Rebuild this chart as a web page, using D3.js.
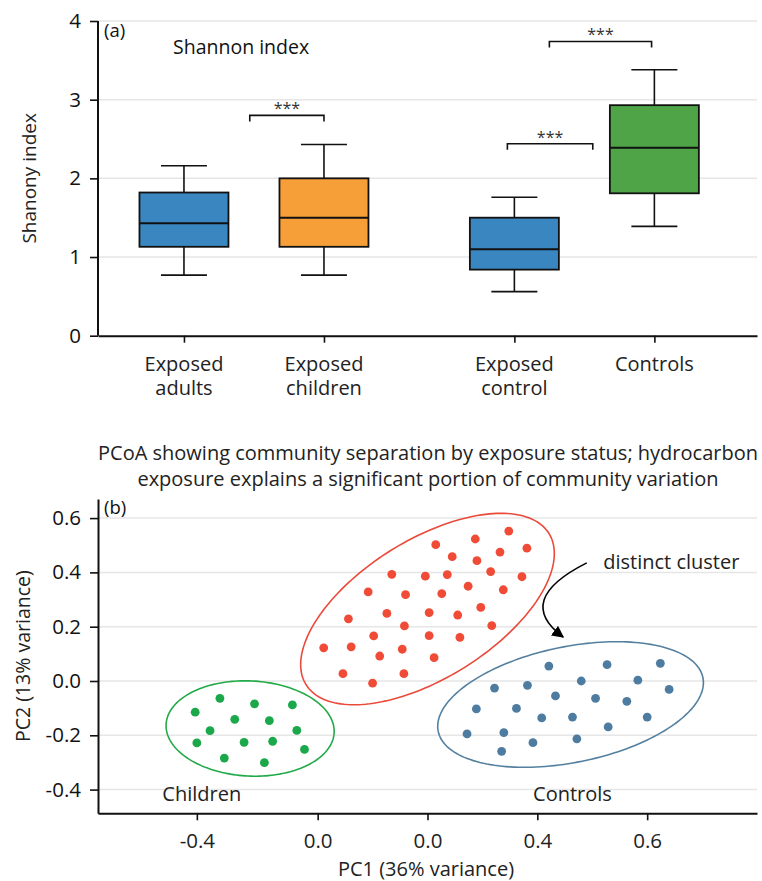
<!DOCTYPE html>
<html>
<head>
<meta charset="utf-8">
<script src="https://cdn.jsdelivr.net/npm/d3@7"></script>
<style>
  body { margin: 0; background: #fff; }
  text { font-family: "Open Sans", "Noto Sans", sans-serif; }
</style>
</head>
<body>
<svg id="chart" width="762" height="881"></svg>
<script>
// ---- panel (a): Shannon index box plots ----
const boxCategories = [['Exposed', 'adults'], ['Exposed', 'children'], ['Exposed', 'control'], ['Controls']]
const boxGroup = [0, 0, 1, 1]
const boxColors = ['#3a86c1', '#f69f39', '#3a86c1', '#4ea446']
const whiskerLow = [0.77, 0.77, 0.56, 1.39]
const q1 = [1.13, 1.13, 0.84, 1.81]
const medians = [1.43, 1.50, 1.10, 2.39]
const q3 = [1.82, 2.00, 1.50, 2.93]
const whiskerHigh = [2.16, 2.43, 1.76, 3.38]
const yTicksA = [0, 1, 2, 3, 4]
// significance brackets, ends in category-position units
const bracketFrom = [0.47, 2.31, 2.61]
const bracketTo = [1.0, 2.92, 3.34]
const bracketY = [2.80, 2.44, 3.74]
const bracketText = ['***', '***', '***']

// ---- panel (b): PCoA scatter ----
const childrenX = [-0.423, -0.378, -0.315, -0.246, -0.351, -0.288, -0.396, -0.238, -0.420, -0.334, -0.282, -0.224, -0.370, -0.297]
const childrenY = [-0.115, -0.064, -0.084, -0.088, -0.141, -0.146, -0.183, -0.182, -0.228, -0.226, -0.222, -0.252, -0.284, -0.301]
const exposedX = [0.015, 0.087, 0.148, 0.181, 0.045, 0.090, 0.132, -0.065, -0.004, 0.036, 0.115, 0.172,
  -0.108, -0.040, 0.026, 0.074, 0.138, -0.144, -0.074, 0.003, 0.055, 0.097, -0.042, 0.117,
  -0.189, -0.139, -0.098, 0.003, 0.059, -0.087, -0.046, 0.012, -0.154, -0.043, -0.100]
const exposedY = [0.502, 0.523, 0.552, 0.489, 0.458, 0.443, 0.475, 0.393, 0.386, 0.392, 0.403, 0.384,
  0.328, 0.318, 0.322, 0.349, 0.336, 0.229, 0.249, 0.252, 0.243, 0.271, 0.203, 0.204,
  0.122, 0.126, 0.166, 0.167, 0.161, 0.092, 0.117, 0.086, 0.027, 0.027, -0.008]
const controlsX = [0.221, 0.327, 0.424, 0.122, 0.182, 0.280, 0.383, 0.440, 0.233, 0.306, 0.363,
  0.089, 0.162, 0.208, 0.264, 0.400, 0.329, 0.072, 0.139, 0.192, 0.272, 0.135]
const controlsY = [0.055, 0.060, 0.065, -0.026, -0.016, 0.000, 0.003, -0.031, -0.055, -0.064, -0.075,
  -0.103, -0.101, -0.136, -0.133, -0.133, -0.169, -0.195, -0.190, -0.227, -0.213, -0.259]
const groupNames = ['children', 'exposed', 'controls']
const groupColors = ['#1aa84b', '#f04b37', '#4e7ca0']
const ellipseColors = ['#22aa48', '#ea4a3a', '#54809f']
// ellipse centre and two semi-axis vectors, in PC units
const ellipseCx = [-0.323, 0.0, 0.2605]
const ellipseCy = [-0.175, 0.265, -0.0866]
const ellipseA = [[0.153, -0.015], [0.221, 0.279], [0.241, 0.099]]
const ellipseB = [[-0.004, -0.175], [0.067, -0.2155], [0.021, -0.209]]
const yTicksB = [-0.4, -0.2, 0.0, 0.2, 0.4, 0.6]
const xTicksB = [-0.42, -0.2, 0.0, 0.2, 0.4]
const xTickLabelsB = ['-0.4', '0.0', '0.0', '0.4', '0.6']

const svg = d3.select('#chart')
const left = 98
const right = 757
const tickFont = 20.5
const labelFont = 20

// ================= panel (a) =================
const groupGap = 0.36
const catPos = boxCategories.map((d, i) => i + boxGroup[i] * groupGap)
const xA = d3.scaleLinear().domain([-0.614, 4.093]).range([left, right])
const yA = d3.scaleLinear().domain([0, 4]).range([335.7, 21])
const boxW = 89
const capW = 46

const gA = svg.append('g')

// grid
gA.selectAll('line.grid').data(yTicksA.filter(d => d > 0)).join('line')
  .attr('x1', left).attr('x2', right)
  .attr('y1', d => yA(d)).attr('y2', d => yA(d))
  .attr('stroke', '#e6e6e6').attr('stroke-width', 1.5)

const yAxisA = gA.append('g')
  .attr('transform', `translate(${left},0)`)
  .call(d3.axisLeft(yA).tickValues(yTicksA).tickFormat(d3.format('d')).tickSize(8).tickSizeOuter(0).tickPadding(9))
const xAxisA = gA.append('g')
  .attr('transform', `translate(0,${yA(0)})`)
  .call(d3.axisBottom(xA).tickValues(catPos).tickFormat('').tickSize(7).tickSizeOuter(0))

;[yAxisA, xAxisA].forEach(ax => {
  ax.select('.domain').attr('stroke', '#111').attr('stroke-width', 2)
  ax.selectAll('.tick line').attr('stroke', '#111').attr('stroke-width', 1.6)
  ax.selectAll('.tick text').attr('font-size', tickFont).attr('fill', '#111')
})
yAxisA.select('.domain').attr('d', `M0,${yA(0)}V${yA(4)}`)

// multi-line category labels
gA.selectAll('text.cat').data(boxCategories).join('text')
  .attr('class', 'cat')
  .attr('text-anchor', 'middle')
  .attr('font-size', labelFont)
  .attr('fill', '#222')
  .each(function (lines, i) {
    d3.select(this).selectAll('tspan').data(lines).join('tspan')
      .attr('x', xA(catPos[i]))
      .attr('y', (l, j) => yA(0) + 35 + j * 24.5)
      .text(l => l)
  })

// whiskers, boxes, medians
const boxes = gA.selectAll('g.box').data(boxCategories).join('g').attr('class', 'box')
boxes.append('line')
  .attr('x1', (d, i) => xA(catPos[i])).attr('x2', (d, i) => xA(catPos[i]))
  .attr('y1', (d, i) => yA(whiskerLow[i])).attr('y2', (d, i) => yA(q1[i]))
  .attr('stroke', '#111').attr('stroke-width', 1.6)
boxes.append('line')
  .attr('x1', (d, i) => xA(catPos[i])).attr('x2', (d, i) => xA(catPos[i]))
  .attr('y1', (d, i) => yA(q3[i])).attr('y2', (d, i) => yA(whiskerHigh[i]))
  .attr('stroke', '#111').attr('stroke-width', 1.6)
boxes.each(function (d, i) {
  const g = d3.select(this)
  ;[whiskerLow[i], whiskerHigh[i]].forEach(v => {
    g.append('line')
      .attr('x1', xA(catPos[i]) - capW / 2).attr('x2', xA(catPos[i]) + capW / 2)
      .attr('y1', yA(v)).attr('y2', yA(v))
      .attr('stroke', '#111').attr('stroke-width', 1.6)
  })
})
boxes.append('rect')
  .attr('x', (d, i) => xA(catPos[i]) - boxW / 2)
  .attr('width', boxW)
  .attr('y', (d, i) => yA(q3[i]))
  .attr('height', (d, i) => yA(q1[i]) - yA(q3[i]))
  .attr('fill', (d, i) => boxColors[i])
  .attr('stroke', '#111').attr('stroke-width', 1.8)
boxes.append('line')
  .attr('x1', (d, i) => xA(catPos[i]) - boxW / 2).attr('x2', (d, i) => xA(catPos[i]) + boxW / 2)
  .attr('y1', (d, i) => yA(medians[i])).attr('y2', (d, i) => yA(medians[i]))
  .attr('stroke', '#111').attr('stroke-width', 2)

// significance brackets
bracketY.forEach((v, i) => {
  const x1 = xA(bracketFrom[i])
  const x2 = xA(bracketTo[i])
  const y = yA(v)
  gA.append('path')
    .attr('d', `M${x1},${y + 6}V${y}H${x2}V${y + 6}`)
    .attr('fill', 'none').attr('stroke', '#111').attr('stroke-width', 1.6)
  gA.append('text')
    .attr('x', (x1 + x2) / 2).attr('y', y - 1)
    .attr('text-anchor', 'middle').attr('font-size', 16).attr('fill', '#333')
    .text(bracketText[i])
})

gA.append('text').attr('x', 104).attr('y', 37).attr('font-size', 18.5).attr('fill', '#111').text('(a)')
gA.append('text').attr('x', 173).attr('y', 54).attr('font-size', 19.5).attr('fill', '#111').text('Shannon index')
gA.append('text')
  .attr('transform', `translate(29,${(yA(0) + yA(4)) / 2}) rotate(-90)`)
  .attr('text-anchor', 'middle').attr('dy', '0.35em')
  .attr('font-size', 19).attr('fill', '#222')
  .text('Shanony index')

// ================= panel (b) =================
const xB = d3.scaleLinear().domain([-0.6, 0.6]).range([left, right])
const yB = d3.scaleLinear().domain([-0.4873, 0.6703]).range([813.3, 499])
const gB = svg.append('g')

gB.append('text').attr('x', 428).attr('y', 460).attr('text-anchor', 'middle')
  .attr('font-size', 20).attr('fill', '#222')
  .text('PCoA showing community separation by exposure status; hydrocarbon')
gB.append('text').attr('x', 428).attr('y', 486).attr('text-anchor', 'middle')
  .attr('font-size', 20).attr('fill', '#222')
  .text('exposure explains a significant portion of community variation')

gB.selectAll('line.grid').data(yTicksB).join('line')
  .attr('x1', left).attr('x2', right)
  .attr('y1', d => yB(d)).attr('y2', d => yB(d))
  .attr('stroke', '#e6e6e6').attr('stroke-width', 1.5)

const yAxisB = gB.append('g')
  .attr('transform', `translate(${left},0)`)
  .call(d3.axisLeft(yB).tickValues(yTicksB).tickFormat(d3.format('.1f')).tickSize(8).tickSizeOuter(0).tickPadding(9))
const xAxisB = gB.append('g')
  .attr('transform', `translate(0,${yB.range()[0]})`)
  .call(d3.axisBottom(xB).tickValues(xTicksB).tickFormat((d, i) => xTickLabelsB[i]).tickSize(7).tickSizeOuter(0).tickPadding(13))
;[yAxisB, xAxisB].forEach(ax => {
  ax.select('.domain').attr('stroke', '#111').attr('stroke-width', 2)
  ax.selectAll('.tick line').attr('stroke', '#111').attr('stroke-width', 1.6)
  ax.selectAll('.tick text').attr('font-size', tickFont).attr('fill', '#111')
})
yAxisB.selectAll('.tick text').text(d => d3.format('.1f')(d).replace('−', '-'))
xAxisB.selectAll('.tick text').attr('fill', '#222')

// ellipses
const ellipseLine = d3.line().curve(d3.curveLinearClosed)
const ts = d3.range(0, 2 * Math.PI, Math.PI / 90)
groupNames.forEach((g, k) => {
  const pts = ts.map(t => [
    xB(ellipseCx[k] + Math.cos(t) * ellipseA[k][0] + Math.sin(t) * ellipseB[k][0]),
    yB(ellipseCy[k] + Math.cos(t) * ellipseA[k][1] + Math.sin(t) * ellipseB[k][1])
  ])
  gB.append('path').attr('d', ellipseLine(pts))
    .attr('fill', 'none').attr('stroke', ellipseColors[k]).attr('stroke-width', 1.6)
})

// points
const seriesX = [childrenX, exposedX, controlsX]
const seriesY = [childrenY, exposedY, controlsY]
groupNames.forEach((g, k) => {
  gB.append('g').selectAll('circle').data(seriesX[k]).join('circle')
    .attr('cx', d => xB(d))
    .attr('cy', (d, i) => yB(seriesY[k][i]))
    .attr('r', 4.4)
    .attr('fill', groupColors[k])
})

// labels
gB.append('text').attr('x', xB(-0.411)).attr('y', yB(-0.416)).attr('dy', '0.35em')
  .attr('text-anchor', 'middle').attr('font-size', labelFont).attr('fill', '#222').text('Children')
gB.append('text').attr('x', xB(0.264)).attr('y', yB(-0.416)).attr('dy', '0.35em')
  .attr('text-anchor', 'middle').attr('font-size', labelFont).attr('fill', '#222').text('Controls')
gB.append('text').attr('x', xB(0.32)).attr('y', yB(0.439)).attr('dy', '0.35em')
  .attr('font-size', labelFont).attr('fill', '#222').text('distinct cluster')

// curved arrow
svg.append('defs').append('marker')
  .attr('id', 'arrowhead').attr('viewBox', '0 0 10 10')
  .attr('refX', 9).attr('refY', 5)
  .attr('markerWidth', 12).attr('markerHeight', 12).attr('markerUnits', 'userSpaceOnUse')
  .attr('orient', 'auto')
  .append('path').attr('d', 'M0,0L10,5L0,10z').attr('fill', '#000')
const arrowPath = d3.path()
arrowPath.moveTo(xB(0.290), yB(0.435))
arrowPath.quadraticCurveTo(xB(0.156), yB(0.298), xB(0.247), yB(0.162))
gB.append('path').attr('d', arrowPath.toString())
  .attr('fill', 'none').attr('stroke', '#000').attr('stroke-width', 1.6)
  .attr('marker-end', 'url(#arrowhead)')

gB.append('text').attr('x', 104).attr('y', 514).attr('font-size', 18.5).attr('fill', '#111').text('(b)')
gB.append('text')
  .attr('transform', `translate(23,${(yB(-0.4873) + yB(0.6703)) / 2}) rotate(-90)`)
  .attr('text-anchor', 'middle').attr('dy', '0.35em')
  .attr('font-size', 19.5).attr('fill', '#222')
  .text('PC2 (13% variance)')
gB.append('text').attr('x', 426).attr('y', 876)
  .attr('text-anchor', 'middle').attr('font-size', labelFont).attr('fill', '#222')
  .text('PC1 (36% variance)')
</script>
</body>
</html>
